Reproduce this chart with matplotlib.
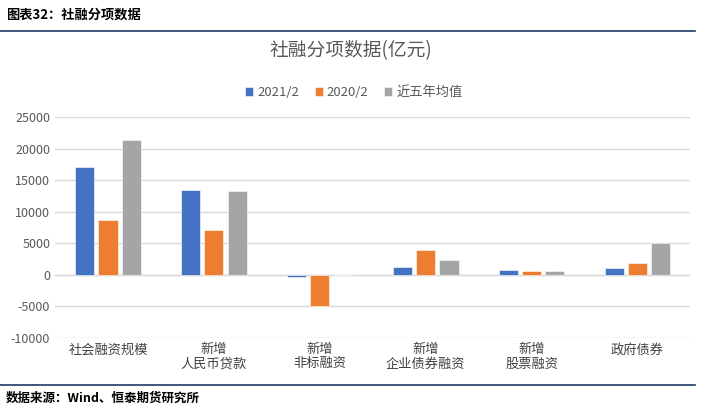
import numpy as np
import matplotlib.pyplot as plt
from matplotlib.lines import Line2D

plt.rcParams['font.family'] = ['Noto Sans CJK SC', 'DejaVu Sans']
plt.rcParams['axes.unicode_minus'] = False

categories = ['社会融资规模', '新增\n人民币贷款', '新增\n非标融资', '新增\n企业债券融资', '新增\n股票融资', '政府债券']
v2021 = [17100, 13400, -300, 1270, 730, 1000]
v2020 = [8700, 7100, -4900, 3850, 530, 1800]
avg5 = [21400, 13250, 0, 2260, 530, 5060]
series_names = ['2021/2', '2020/2', '近五年均值']
colors = ['#4472C4', '#ED7D31', '#A5A5A5']

fig = plt.figure(figsize=(7.06, 4.12), dpi=100)
ax = fig.add_axes([0.078, 0.18, 0.9, 0.536])

x = np.arange(len(categories))
w = 0.18
for i, (vals, name, c) in enumerate(zip([v2021, v2020, avg5], series_names, colors)):
    ax.bar(x + (i - 1) * 0.22, vals, w, color=c, label=name, edgecolor='white', linewidth=0.4, zorder=3)

ax.set_xlim(-0.5, len(categories) - 0.5)
ax.set_ylim(-10000, 25000)
ax.set_yticks(range(-10000, 25001, 5000))
ax.yaxis.grid(True, color='#D9D9D9', linewidth=1, zorder=0)
ax.axhline(0, color='#D9D9D9', linewidth=1, zorder=1)
for s in ax.spines.values():
    s.set_visible(False)
ax.tick_params(axis='both', length=0, labelsize=9, colors='#595959')
ax.set_xticks(x)
ax.set_xticklabels(categories, fontsize=9.5, color='#404040', linespacing=1.1)
ax.tick_params(axis='x', pad=4)

fig.text(0.497, 0.878, '社融分项数据(亿元)', ha='center', va='center', fontsize=13.5, color='#595959')
ax.legend(loc='center', bbox_to_anchor=(0.47, 1.11), ncol=3, frameon=False, fontsize=9.5,
          handlelength=0.6, handleheight=0.6, handletextpad=0.3, columnspacing=1.2,
          labelcolor='#595959')

fig.text(0.008, 0.965, '图表32：社融分项数据', ha='left', va='center', fontsize=9.5, fontweight='bold', color='black')
fig.add_artist(Line2D([0, 0.985], [0.925, 0.925], color='#1F3864', linewidth=1.2, transform=fig.transFigure))
fig.add_artist(Line2D([0, 0.985], [0.066, 0.066], color='#1F3864', linewidth=1.2, transform=fig.transFigure))
fig.text(0.008, 0.034, '数据来源：Wind、恒泰期货研究所', ha='left', va='center', fontsize=9, fontweight='bold', color='black')

fig.savefig('out.png', dpi=100)
